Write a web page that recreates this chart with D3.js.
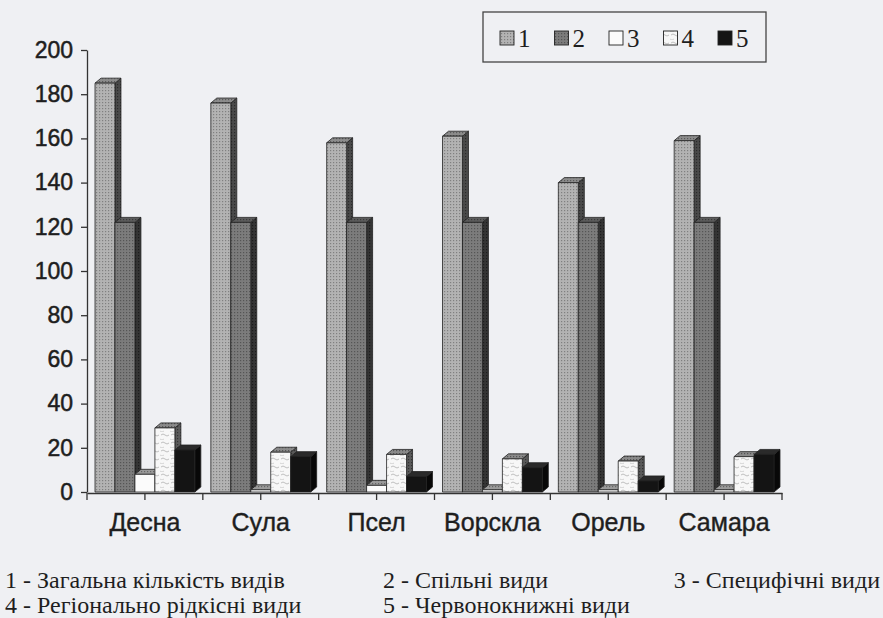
<!DOCTYPE html>
<html>
<head>
<meta charset="utf-8">
<script src="https://cdn.jsdelivr.net/npm/d3@7"></script>
<style>
  body { margin: 0; background: #eff0f3; }
  svg { display: block; }
</style>
</head>
<body>
<svg id="chart" width="883" height="618"></svg>
<script>
// categories (rivers) and the five series
const categories = ["Десна", "Сула", "Псел", "Ворскла", "Орель", "Самара"];
const seriesKeys = ["1", "2", "3", "4", "5"];
const totalSpecies = [185, 176, 158, 161, 140, 159];
const commonSpecies = [122, 122, 122, 122, 122, 122];
const specificSpecies = [8, 1, 3, 1, 1, 1];
const rareSpecies = [29, 18, 17, 15, 14, 16];
const redBookSpecies = [19, 16, 7, 11, 5, 17];
const yTicks = [0, 20, 40, 60, 80, 100, 120, 140, 160, 180, 200];
const noteLabels = [
  "1 - Загальна кількість видів",
  "2 - Спільні види",
  "3 - Специфічні види",
  "4 - Регіонально рідкісні види",
  "5 - Червонокнижні види"
];

const seriesValues = [totalSpecies, commonSpecies, specificSpecies, rareSpecies, redBookSpecies];

const svg = d3.select("#chart");
const defs = svg.append("defs");

// dotted fill patterns, a la scanned grey screens
function dotPattern(id, base, dot) {
  const p = defs.append("pattern").attr("id", id)
    .attr("width", 3).attr("height", 3).attr("patternUnits", "userSpaceOnUse");
  p.append("rect").attr("width", 3).attr("height", 3).attr("fill", base);
  p.append("rect").attr("width", 1.2).attr("height", 1.2).attr("fill", dot);
}
dotPattern("f1", "#b3b3b3", "#808080");
dotPattern("s1", "#4a4a4a", "#2a2a2a");
dotPattern("t1", "#8c8c8c", "#5a5a5a");
dotPattern("f2", "#7c7c7c", "#555");
dotPattern("s2", "#353535", "#1c1c1c");
dotPattern("t2", "#5c5c5c", "#3a3a3a");
dotPattern("t3", "#9a9a9a", "#666");
dotPattern("s4", "#5a5a5a", "#333");
dotPattern("t4", "#8a8a8a", "#555");

// wavy light pattern for series 4
const wp = defs.append("pattern").attr("id", "f4")
  .attr("width", 10).attr("height", 8).attr("patternUnits", "userSpaceOnUse");
wp.append("rect").attr("width", 10).attr("height", 8).attr("fill", "#f7f7f7");
wp.append("path").attr("d", "M1,3 q2,-2 4,0 t4,0").attr("fill", "none")
  .attr("stroke", "#b8b8b8").attr("stroke-width", 0.9);
wp.append("path").attr("d", "M-4,7 q2,-2 4,0 t4,0").attr("fill", "none")
  .attr("stroke", "#c8c8c8").attr("stroke-width", 0.8);

const fills = [
  {front: "url(#f1)", side: "url(#s1)", top: "url(#t1)"},
  {front: "url(#f2)", side: "url(#s2)", top: "url(#t2)"},
  {front: "#fbfbfb", side: "#e2e2e2", top: "url(#t3)"},
  {front: "url(#f4)", side: "url(#s4)", top: "url(#t4)"},
  {front: "#141414", side: "#080808", top: "#2a2a2a"}
];
const legendFills = ["url(#f1)", "url(#f2)", "#fbfbfb", "url(#f4)", "#141414"];

const margin = {left: 87, right: 101, top: 50, bottom: 126};
const width = 883, height = 618;

const x = d3.scaleBand()
  .domain(categories)
  .range([margin.left, width - margin.right]);

const xs = d3.scaleBand()
  .domain(seriesKeys)
  .range([8, x.bandwidth() - 8]);

const y = d3.scaleLinear()
  .domain([0, 200])
  .range([height - margin.bottom, margin.top]);

const depth = 6, rise = 5;

// bars, drawn left to right so the next bar hides the side of the one before
const bars = svg.append("g");
categories.forEach((cat, ci) => {
  seriesKeys.forEach((key, si) => {
    const v = seriesValues[si][ci];
    const x0 = x(cat) + xs(key), w = xs.bandwidth();
    const yt = y(v), yb = y(0);
    const g = bars.append("g")
      .attr("stroke", "#222").attr("stroke-width", 0.8).attr("stroke-linejoin", "round");
    g.append("polygon")
      .attr("points", [[x0 + w, yt], [x0 + w + depth, yt - rise], [x0 + w + depth, yb - rise], [x0 + w, yb]].join(" "))
      .attr("fill", fills[si].side);
    g.append("polygon")
      .attr("points", [[x0, yt], [x0 + depth, yt - rise], [x0 + w + depth, yt - rise], [x0 + w, yt]].join(" "))
      .attr("fill", fills[si].top);
    g.append("rect")
      .attr("x", x0).attr("y", yt)
      .attr("width", w).attr("height", yb - yt)
      .attr("fill", fills[si].front);
  });
});

const sansFont = "'Liberation Sans', Arial, sans-serif";
const serifFont = "'Liberation Serif', 'Times New Roman', serif";

// y axis
const yAxis = svg.append("g")
  .attr("transform", `translate(${margin.left},0)`)
  .call(d3.axisLeft(y).tickValues(yTicks).tickSize(6).tickSizeOuter(0).tickPadding(8));
yAxis.select(".domain").attr("stroke", "#333").attr("stroke-width", 1.3);
yAxis.selectAll(".tick line").attr("stroke", "#333").attr("stroke-width", 1.3);
yAxis.selectAll("text")
  .attr("fill", "#1e1e1e")
  .attr("stroke", "#1e1e1e").attr("stroke-width", 0.5)
  .style("font-family", sansFont)
  .style("font-size", "23px");

// x axis
const xAxis = svg.append("g")
  .attr("transform", `translate(0,${y(0) + 1})`)
  .call(d3.axisBottom(x).tickSize(7).tickSizeOuter(0).tickPadding(13));
xAxis.select(".domain").attr("stroke", "#333").attr("stroke-width", 1.3);
xAxis.selectAll(".tick line").attr("stroke", "#333").attr("stroke-width", 1.3);
xAxis.selectAll("text")
  .attr("fill", "#1e1e1e")
  .attr("stroke", "#1e1e1e").attr("stroke-width", 0.4)
  .style("font-family", sansFont)
  .style("font-size", "25px");
// ticks on category boundaries too
xAxis.selectAll(".edge")
  .data(categories.map(c => x(c)).concat([x.range()[1]]))
  .enter().append("line")
  .attr("x1", d => d).attr("x2", d => d)
  .attr("y1", 0).attr("y2", 7)
  .attr("stroke", "#333").attr("stroke-width", 1.3);

// legend box
const legend = svg.append("g");
legend.append("rect")
  .attr("x", 483).attr("y", 12).attr("width", 283).attr("height", 50)
  .attr("fill", "none").attr("stroke", "#444").attr("stroke-width", 1.3);
seriesKeys.forEach((key, i) => {
  const lx = 500 + i * 54.5;
  legend.append("rect")
    .attr("x", lx).attr("y", 31).attr("width", 14).attr("height", 14)
    .attr("fill", legendFills[i]).attr("stroke", "#222").attr("stroke-width", 0.9);
  legend.append("text")
    .attr("x", lx + 18).attr("y", 47)
    .attr("fill", "#1e1e1e")
    .style("font-family", serifFont)
    .style("font-size", "25px")
    .text(key);
});

// notes under the chart
const notePos = [[5, 588, "start"], [383, 588, "start"], [880, 588, "end"], [5, 613, "start"], [383, 613, "start"]];
svg.append("g").selectAll("text")
  .data(noteLabels)
  .enter().append("text")
  .attr("x", (d, i) => notePos[i][0])
  .attr("y", (d, i) => notePos[i][1])
  .attr("text-anchor", (d, i) => notePos[i][2])
  .attr("fill", "#1e1e1e")
  .style("font-family", serifFont)
  .style("font-size", "24px")
  .text(d => d);
</script>
</body>
</html>
